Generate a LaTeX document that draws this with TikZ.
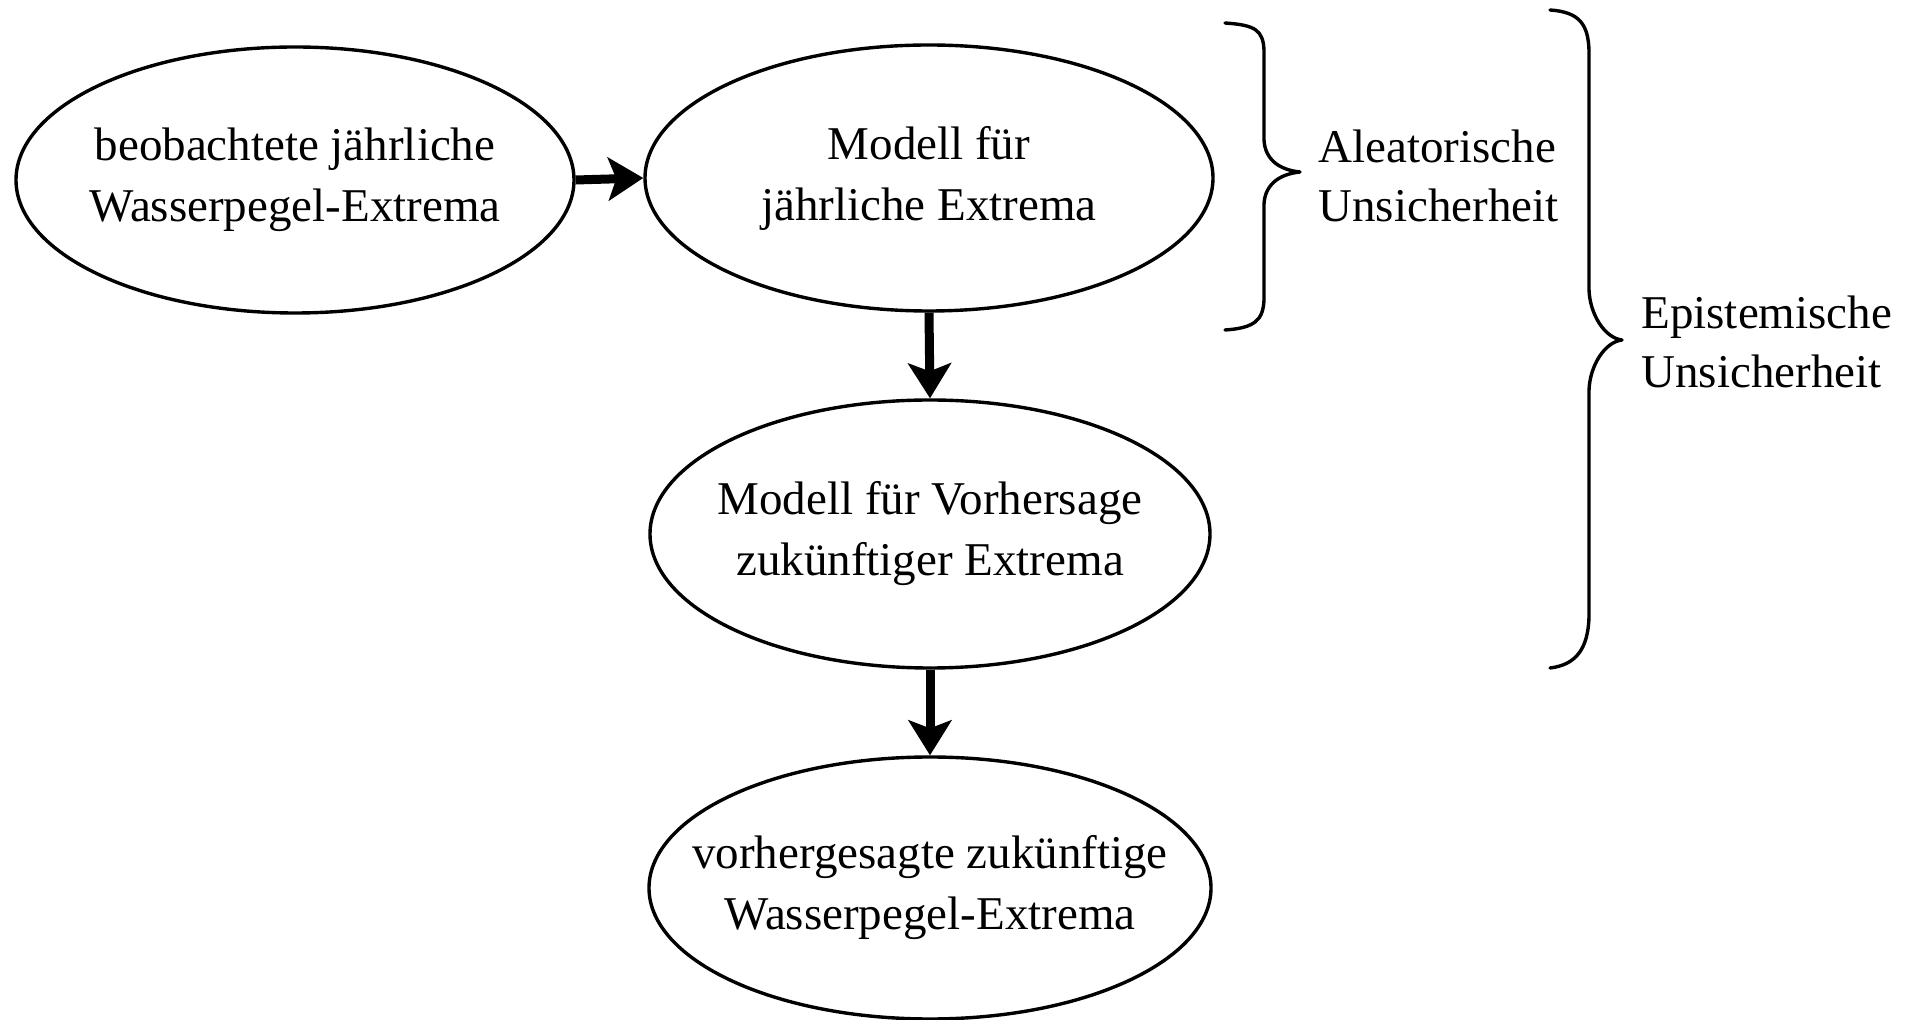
\documentclass[tikz,border=0pt]{standalone}
\usepackage{fontspec}
\setmainfont{Liberation Serif}
\usetikzlibrary{shapes.geometric,arrows.meta}
\tikzset{
  ell/.style={ellipse, draw, line width=1.7pt, inner sep=0pt},
  txt/.style={font=\fontsize{23.5pt}{30.5pt}\selectfont, align=center, inner sep=0pt},
  side/.style={font=\fontsize{23.5pt}{29.5pt}\selectfont, align=left, inner sep=0pt, anchor=west},
  flow/.style={line width=4.5pt, -{Stealth[length=17.5pt,width=21.5pt,inset=4pt]}},
  brace/.style={line width=1.7pt, line cap=round, line join=round}
}
\begin{document}
\begin{tikzpicture}[x=0.5pt,y=-0.5pt]
\useasboundingbox (0,0) rectangle (1917,1020);
\node[ell, minimum width=279pt, minimum height=133pt] (e1) at (295,180) {};
\node[txt] (t1) at (e1) {beobachtete jährliche\\Wasserpegel-Extrema};
\node[ell, minimum width=284pt, minimum height=133pt] (e2) at (929,178) {};
\node[txt] (t2) at (e2) {Modell für\\jährliche Extrema};
\node[ell, minimum width=280pt, minimum height=134pt] (e3) at (930,534) {};
\node[txt] (t3) at (e3) {Modell für Vorhersage\\zukünftiger Extrema};
\node[ell, minimum width=281pt, minimum height=131pt] (e4) at (930,888) {};
\node[txt] (t4) at (e4) {vorhergesagte zukünftige\\Wasserpegel-Extrema};
\draw[flow] (e1.east) -- (e2.west);
\draw[flow] (e2.south) -- (e3.north);
\draw[flow] (e3.south) -- (e4.north);
% brace 1
\draw[brace] (1225,23) .. controls (1255,25) and (1263,30) .. (1264,50) -- (1264,140)
  .. controls (1265,160) and (1280,170) .. (1300,172)
  .. controls (1280,174) and (1265,184) .. (1264,204) -- (1264,300)
  .. controls (1263,320) and (1255,328) .. (1225,330);
\node[side] (alea) at (1318,176) {Aleatorische\\Unsicherheit};
% brace 2
\draw[brace] (1550,10) .. controls (1580,12) and (1588,25) .. (1589,50) -- (1589,290)
  .. controls (1590,315) and (1605,338) .. (1622,340)
  .. controls (1605,342) and (1590,365) .. (1589,390) -- (1589,617)
  .. controls (1588,650) and (1575,665) .. (1550,668);
\node[side] (epi) at (1641,342) {Epistemische\\Unsicherheit};
\end{tikzpicture}
\end{document}
